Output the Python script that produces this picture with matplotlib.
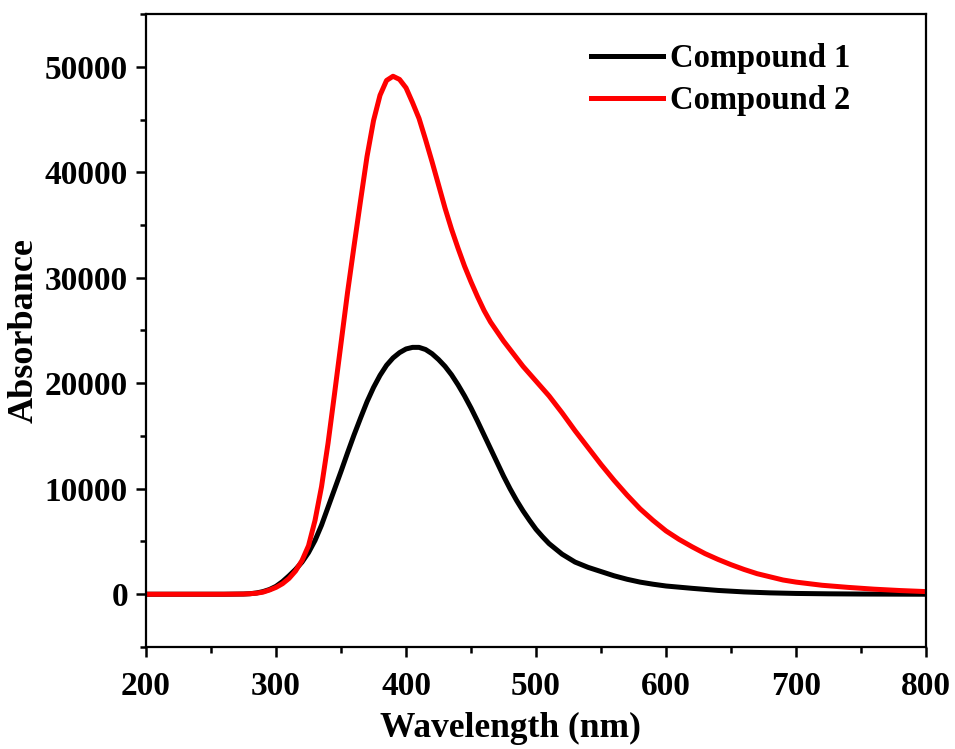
import matplotlib
matplotlib.use("Agg")
import matplotlib.pyplot as plt
from matplotlib.ticker import MultipleLocator

plt.rcParams['font.family'] = ['Liberation Serif', 'DejaVu Serif']
plt.rcParams['font.weight'] = 'bold'

# UV-vis absorbance readings (nm)
wavelength_1 = [200, 220, 240, 260, 275, 280, 285, 290, 295, 300, 305, 310, 315, 320,
                325, 330, 335, 340, 345, 350, 355, 360, 365, 370, 375, 380, 385, 390,
                395, 400, 405, 410, 415, 420, 425, 430, 435, 440, 445, 450, 455, 460,
                465, 470, 475, 480, 485, 490, 495, 500, 505, 510, 520, 530, 540, 550,
                560, 570, 580, 590, 600, 620, 640, 660, 680, 700, 725, 750, 800]
compound_1 = [0, 0, 0, 0, 20, 50, 120, 250, 450, 750, 1200, 1750, 2350, 3050,
              3950, 5100, 6550, 8250, 9950, 11650, 13400, 15100, 16700, 18250, 19600,
              20750, 21700, 22400, 22900, 23250, 23400, 23400, 23200, 22800, 22250,
              21600, 20800, 19850, 18800, 17650, 16400, 15100, 13800, 12500, 11200,
              10000, 8900, 7900, 7000, 6150, 5450, 4800, 3800, 3050, 2550, 2150, 1750,
              1420, 1150, 950, 780, 560, 360, 220, 130, 75, 40, 20, 0]

wavelength_2 = [200, 220, 240, 260, 275, 280, 285, 290, 295, 300, 305, 310, 315, 320,
                325, 330, 335, 340, 345, 350, 355, 360, 365, 370, 375, 380, 385, 390,
                395, 400, 405, 410, 415, 420, 425, 430, 435, 440, 445, 450, 455, 460,
                465, 470, 475, 480, 485, 490, 495, 500, 505, 510, 515, 520, 530, 540,
                550, 560, 570, 580, 590, 600, 610, 620, 630, 640, 650, 660, 670, 680,
                690, 700, 720, 740, 760, 780, 800]
compound_2 = [0, 0, 0, 0, 20, 50, 100, 200, 400, 650, 1000, 1500, 2200, 3200,
              4600, 7000, 10200, 14300, 19000, 23800, 28600, 33000, 37300, 41500,
              44900, 47300, 48700, 49100, 48800, 48000, 46600, 45100, 43100, 41000,
              38800, 36600, 34600, 32800, 31100, 29600, 28200, 26900, 25800, 24900,
              24000, 23200, 22400, 21600, 20900, 20200, 19500, 18800, 18000, 17200,
              15500, 13900, 12300, 10800, 9400, 8100, 7000, 6000, 5200, 4500, 3850,
              3300, 2800, 2350, 1950, 1650, 1350, 1150, 850, 650, 480, 350, 250]

fig = plt.figure(figsize=(9.55, 7.49), dpi=100)
ax = fig.add_axes([0.1529, 0.1362, 0.8168, 0.8451])

ax.plot(wavelength_1, compound_1, color='black', lw=3.6, label='Compound 1',
        solid_joinstyle='round')
ax.plot(wavelength_2, compound_2, color='#ff0000', lw=3.6, label='Compound 2',
        solid_joinstyle='round')

ax.set_xlim(200, 800)
ax.set_ylim(-5000, 55000)
ax.xaxis.set_major_locator(MultipleLocator(100))
ax.xaxis.set_minor_locator(MultipleLocator(50))
ax.yaxis.set_major_locator(MultipleLocator(10000))
ax.yaxis.set_minor_locator(MultipleLocator(5000))
ax.tick_params(which='both', direction='out', width=1.8, labelsize=24, top=False, right=False)
ax.tick_params(which='major', length=7)
ax.tick_params(axis='x', which='major', pad=10)
ax.tick_params(axis='y', which='major', pad=6)
ax.tick_params(which='minor', length=4.5)
for sp in ax.spines.values():
    sp.set_linewidth(1.6)

ax.set_xlabel('Wavelength (nm)', fontsize=25.5, fontweight='bold')
ax.xaxis.set_label_coords(0.467, -0.102)
ax.set_ylabel('Absorbance', fontsize=26, fontweight='bold', labelpad=3)

ax.legend(loc='upper right', frameon=False, fontsize=23.5, handlelength=2.2,
          handletextpad=0.2, labelspacing=0.33, bbox_to_anchor=(0.94, 1.0))

fig.savefig('out.png', dpi=100)
